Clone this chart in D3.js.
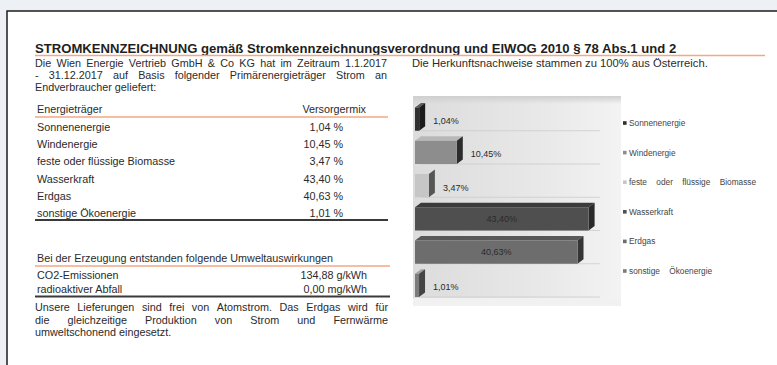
<!DOCTYPE html>
<html><head><meta charset="utf-8">
<script src="https://cdn.jsdelivr.net/npm/d3@7"></script>
<style>
html,body{margin:0;padding:0;background:#edf1f6;}
svg{display:block;font-family:"Liberation Sans",Arial,sans-serif;}
</style></head><body>
<svg id="chart" width="777" height="365"></svg>
<script>
// Primary energy sources and their share of the supply mix (%)
const sources = ["Sonnenenergie", "Windenergie", "feste oder flüssige Biomasse", "Wasserkraft", "Erdgas", "sonstige Ökoenergie"];
const shares = [1.04, 10.45, 3.47, 43.40, 40.63, 1.01];
const shareText = ["1,04 %", "10,45 %", "3,47 %", "43,40 %", "40,63 %", "1,01 %"];
const barText = ["1,04%", "10,45%", "3,47%", "43,40%", "40,63%", "1,01%"];
// Environmental impact of generation
const impactNames = ["CO2-Emissionen", "radioaktiver Abfall"];
const impactValues = ["134,88 g/kWh", "0,00 mg/kWh"];

// Bar shading: front, top and side faces per source
const frontFill = ["#2f2f2f", "#8d8d8d", "#c6c6c6", "#4f4f4f", "#6d6d6d", "#7c7c7c"];
const topFill   = ["#5a5a5a", "#b8b8b8", "#dcdcdc", "#3b3b3b", "#585858", "#a0a0a0"];
const sideFill  = ["#1b1b1b", "#2c2c2c", "#565656", "#2a2a2a", "#353535", "#444444"];

const svg = d3.select("#chart");
const ink = "#2b2b2b";
const orange = "#f3a785";

// sheet
svg.append("rect").attr("x", 7).attr("y", 11).attr("width", 790).attr("height", 380)
  .attr("fill", "#fff").attr("stroke", "#1d1d1d").attr("stroke-width", 1.5);

// helpers
function fitWidth(sel, width) {
  const w = sel.node().getComputedTextLength();
  const fs = parseFloat(sel.attr("font-size"));
  sel.attr("font-size", fs * width / w);
}
function justify(g, str, x0, x1, yb, fs) {
  const words = str.split(/\s+/);
  const tmp = g.append("text").attr("font-size", fs);
  const widths = words.map(w => { tmp.text(w); return tmp.node().getComputedTextLength(); });
  tmp.remove();
  const gap = (x1 - x0 - d3.sum(widths)) / (words.length - 1);
  let cx = x0;
  words.forEach((w, i) => {
    g.append("text").attr("x", cx).attr("y", yb).attr("font-size", fs).attr("fill", ink).text(w);
    cx += widths[i] + gap;
  });
}

// title
const title = svg.append("text").attr("x", 35).attr("y", 52.5).attr("font-size", 12.5)
  .attr("font-weight", "bold").attr("fill", "#1e1e1e")
  .text("STROMKENNZEICHNUNG gemäß Stromkennzeichnungsverordnung und ElWOG 2010 § 78 Abs.1 und 2");
fitWidth(title, 642);
svg.append("line").attr("x1", 35).attr("x2", 765).attr("y1", 55.5).attr("y2", 55.5)
  .attr("stroke", orange).attr("stroke-width", 1.5);

// intro text
const left = svg.append("g");
const FS = 10.8;
justify(left, "Die Wien Energie Vertrieb GmbH & Co KG hat im Zeitraum 1.1.2017", 35, 387, 66.5, FS);
justify(left, "- 31.12.2017 auf Basis folgender Primärenergieträger Strom an", 35, 387, 78.5, FS);
left.append("text").attr("x", 35).attr("y", 90.5).attr("font-size", FS).attr("fill", ink)
  .text("Endverbraucher geliefert:");

// supply mix table
const rowY = d3.scalePoint().domain(sources).range([131, 217]);
left.append("text").attr("x", 37).attr("y", 113).attr("font-size", FS).attr("fill", ink).text("Energieträger");
left.append("text").attr("x", 366).attr("y", 113).attr("font-size", FS).attr("fill", ink)
  .attr("text-anchor", "end").text("Versorgermix");
left.append("line").attr("x1", 35).attr("x2", 388).attr("y1", 117).attr("y2", 117)
  .attr("stroke", orange).attr("stroke-width", 1.5);
left.selectAll("text.src").data(sources).join("text").attr("class", "src")
  .attr("x", 37).attr("y", d => rowY(d)).attr("font-size", FS).attr("fill", ink).text(d => d);
left.selectAll("text.val").data(sources).join("text").attr("class", "val")
  .attr("x", 343).attr("y", d => rowY(d)).attr("font-size", FS).attr("fill", ink)
  .attr("text-anchor", "end").text((d, i) => shareText[i]);
left.append("line").attr("x1", 35).attr("x2", 388).attr("y1", 220).attr("y2", 220)
  .attr("stroke", "#3a3a3a").attr("stroke-width", 1.8);

// impact table
left.append("text").attr("x", 37).attr("y", 262).attr("font-size", FS).attr("fill", ink)
  .text("Bei der Erzeugung entstanden folgende Umweltauswirkungen");
left.append("line").attr("x1", 35).attr("x2", 390).attr("y1", 266).attr("y2", 266)
  .attr("stroke", orange).attr("stroke-width", 1.5);
const impY = d3.scalePoint().domain(impactNames).range([279, 293]);
left.selectAll("text.imp").data(impactNames).join("text").attr("class", "imp")
  .attr("x", 37).attr("y", d => impY(d)).attr("font-size", FS).attr("fill", ink).text(d => d);
left.selectAll("text.impv").data(impactNames).join("text").attr("class", "impv")
  .attr("x", 367).attr("y", d => impY(d)).attr("font-size", FS).attr("fill", ink)
  .attr("text-anchor", "end").text((d, i) => impactValues[i]);
left.append("line").attr("x1", 35).attr("x2", 390).attr("y1", 296.5).attr("y2", 296.5)
  .attr("stroke", "#3a3a3a").attr("stroke-width", 1.8);

// closing note
justify(left, "Unsere Lieferungen sind frei von Atomstrom. Das Erdgas wird für", 35, 388, 311, FS);
justify(left, "die gleichzeitige Produktion von Strom und Fernwärme", 35, 388, 323.5, FS);
left.append("text").attr("x", 35).attr("y", 336).attr("font-size", FS).attr("fill", ink)
  .text("umweltschonend eingesetzt.");

// origin note
const origin = svg.append("text").attr("x", 412).attr("y", 66.5).attr("font-size", FS).attr("fill", ink)
  .text("Die Herkunftsnachweise stammen zu 100% aus Österreich.");
fitWidth(origin, 296);

// ---- 3D bar chart ----
const defs = svg.append("defs");
const wall = defs.append("linearGradient").attr("id", "wall").attr("x1", 0).attr("x2", 1).attr("y1", 0).attr("y2", 0);
wall.append("stop").attr("offset", 0).attr("stop-color", "#dcdcdc");
wall.append("stop").attr("offset", 0.6).attr("stop-color", "#e8e8e8");
wall.append("stop").attr("offset", 1).attr("stop-color", "#f3f3f3");
const wallTop = defs.append("linearGradient").attr("id", "wallTop").attr("x1", 0).attr("x2", 0).attr("y1", 0).attr("y2", 1);
wallTop.append("stop").attr("offset", 0).attr("stop-color", "#cfcfcf");
wallTop.append("stop").attr("offset", 1).attr("stop-color", "#cfcfcf").attr("stop-opacity", 0);

const x = d3.scaleLinear().domain([0, 45]).range([415, 595]);
const y = d3.scaleBand().domain(sources).range([98.5, 298]);
const bw = y.bandwidth();
const depth = 6, rise = 4.5;

const chart = svg.append("g");
chart.append("rect").attr("x", 413).attr("y", 96).attr("width", 208).attr("height", 210).attr("fill", "url(#wall)");
chart.append("rect").attr("x", 413).attr("y", 96).attr("width", 208).attr("height", 8).attr("fill", "url(#wallTop)");
chart.append("rect").attr("x", 413).attr("y", 298).attr("width", 208).attr("height", 8).attr("fill", "#f1f1f1");

// category separators on the back wall
chart.selectAll("line.grid").data(sources).join("line").attr("class", "grid")
  .attr("x1", x(0) + depth).attr("x2", 600)
  .attr("y1", d => y(d) + bw - 1).attr("y2", d => y(d) + bw - 1)
  .attr("stroke", "#cbcbcb").attr("stroke-width", 0.8);

const bars = chart.selectAll("g.bar").data(sources).join("g").attr("class", "bar");
const ft = d => y(d) + bw * 0.27;
const fh = bw * 0.7;
bars.append("polygon")
  .attr("points", (d, i) => {
    const x0 = x(0), x1 = x(shares[i]), t = ft(d);
    return [[x0, t], [x0 + depth, t - rise], [x1 + depth, t - rise], [x1, t]].join(" ");
  })
  .attr("fill", (d, i) => topFill[i]);
bars.append("polygon")
  .attr("points", (d, i) => {
    const x1 = x(shares[i]), t = ft(d);
    return [[x1, t], [x1 + depth, t - rise], [x1 + depth, t - rise + fh], [x1, t + fh]].join(" ");
  })
  .attr("fill", (d, i) => sideFill[i]);
bars.append("rect")
  .attr("x", x(0)).attr("y", d => ft(d))
  .attr("width", (d, i) => x(shares[i]) - x(0)).attr("height", fh)
  .attr("fill", (d, i) => frontFill[i]);

// value labels: inside long bars, after short ones
bars.append("text")
  .attr("font-size", 9).attr("fill", "#2a2a2a")
  .attr("text-anchor", (d, i) => shares[i] > 20 ? "middle" : "start")
  .attr("x", (d, i) => shares[i] > 20 ? (x(0) + x(shares[i])) / 2 : x(shares[i]) + depth + 8)
  .attr("y", (d, i) => shares[i] > 20 ? ft(d) + fh / 2 + 3.2 : y(d) + 25.5)
  .text((d, i) => barText[i]);

// legend
const ly = d3.scalePoint().domain(sources).range([123, 271]);
const legend = svg.append("g");
legend.selectAll("rect").data(sources).join("rect")
  .attr("x", 623).attr("y", d => ly(d) - 1.8).attr("width", 3.6).attr("height", 3.6)
  .attr("fill", (d, i) => frontFill[i]);
legend.selectAll("text").data(sources).join("text")
  .attr("x", 629).attr("y", d => ly(d) + 3).attr("font-size", 8.3).attr("fill", "#444")
  .attr("word-spacing", 7).text(d => d);
</script>
</body></html>
